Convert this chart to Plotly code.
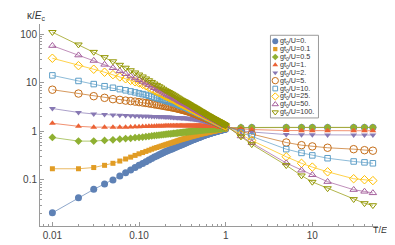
import plotly.graph_objects as go

# ---------------- data ----------------
T = [0.01, 0.02, 0.03, 0.04, 0.05, 0.06, 0.07, 0.08, 0.09, 0.10,
     0.11, 0.12, 0.13, 0.14, 0.15, 0.16, 0.17, 0.18, 0.19, 0.20,
     0.21, 0.22, 0.23, 0.24, 0.25, 0.26, 0.27, 0.28, 0.29, 0.30,
     0.31, 0.32, 0.33, 0.34, 0.35, 0.36, 0.37, 0.38, 0.39, 0.40,
     0.41, 0.42, 0.43, 0.44, 0.45, 0.46, 0.47, 0.48, 0.49, 0.50,
     0.51, 0.52, 0.53, 0.54, 0.55, 0.56, 0.57, 0.58, 0.59, 0.60,
     0.61, 0.62, 0.63, 0.64, 0.65, 0.66, 0.67, 0.68, 0.69, 0.70,
     0.71, 0.72, 0.73, 0.74, 0.75, 0.76, 0.77, 0.78, 0.79, 0.80,
     0.81, 0.82, 0.83, 0.84, 0.85, 0.86, 0.87, 0.88, 0.89, 0.90,
     0.91, 0.92, 0.93, 0.94, 0.95, 0.96, 0.97, 0.98, 0.99, 1.00,
     1.5, 2, 5, 7.5, 10, 15, 30, 40, 50]

k_g0 = [0.021, 0.043, 0.064, 0.083, 0.10, 0.12, 0.14, 0.16, 0.18, 0.20,
        0.219, 0.238, 0.257, 0.276, 0.295, 0.312, 0.329, 0.346, 0.363, 0.38,
        0.394, 0.408, 0.422, 0.436, 0.45, 0.464, 0.478, 0.492, 0.506, 0.52,
        0.533, 0.546, 0.559, 0.572, 0.585, 0.598, 0.611, 0.624, 0.637, 0.65,
        0.661, 0.672, 0.683, 0.694, 0.705, 0.716, 0.727, 0.738, 0.749, 0.76,
        0.77, 0.78, 0.79, 0.80, 0.81, 0.82, 0.83, 0.84, 0.85, 0.86,
        0.868, 0.876, 0.884, 0.892, 0.90, 0.908, 0.916, 0.924, 0.932, 0.94,
        0.947, 0.954, 0.961, 0.968, 0.975, 0.982, 0.989, 0.996, 1.003, 1.01,
        1.016, 1.022, 1.028, 1.034, 1.04, 1.046, 1.052, 1.058, 1.064, 1.07,
        1.075, 1.08, 1.085, 1.09, 1.095, 1.10, 1.105, 1.11, 1.115, 1.12,
        1.18, 1.2, 1.2, 1.2, 1.2, 1.2, 1.2, 1.2, 1.2]

k_g01 = [0.17, 0.17, 0.18, 0.20, 0.22, 0.245, 0.27, 0.295, 0.32, 0.345,
         0.366, 0.387, 0.408, 0.429, 0.45, 0.466, 0.482, 0.498, 0.514, 0.53,
         0.544, 0.558, 0.572, 0.586, 0.60, 0.614, 0.628, 0.642, 0.656, 0.67,
         0.681, 0.692, 0.703, 0.714, 0.725, 0.736, 0.747, 0.758, 0.769, 0.78,
         0.789, 0.798, 0.807, 0.816, 0.825, 0.834, 0.843, 0.852, 0.861, 0.87,
         0.877, 0.884, 0.891, 0.898, 0.905, 0.912, 0.919, 0.926, 0.933, 0.94,
         0.946, 0.952, 0.958, 0.964, 0.97, 0.976, 0.982, 0.988, 0.994, 1.0,
         1.005, 1.01, 1.015, 1.02, 1.025, 1.03, 1.035, 1.04, 1.045, 1.05,
         1.055, 1.06, 1.065, 1.07, 1.075, 1.08, 1.085, 1.09, 1.095, 1.10,
         1.104, 1.108, 1.112, 1.116, 1.12, 1.124, 1.128, 1.132, 1.136, 1.14,
         1.19, 1.2, 1.2, 1.2, 1.2, 1.2, 1.2, 1.2, 1.2]

k_g05 = [0.75, 0.63, 0.63, 0.65, 0.67, 0.69, 0.71, 0.72, 0.74, 0.75,
         0.764, 0.778, 0.792, 0.806, 0.82, 0.83, 0.84, 0.85, 0.86, 0.87,
         0.877, 0.884, 0.891, 0.898, 0.905, 0.912, 0.919, 0.926, 0.933, 0.94,
         0.946, 0.952, 0.958, 0.964, 0.97, 0.976, 0.982, 0.988, 0.994, 1.0,
         1.005, 1.01, 1.015, 1.02, 1.025, 1.03, 1.035, 1.04, 1.045, 1.05,
         1.054, 1.058, 1.062, 1.066, 1.07, 1.074, 1.078, 1.082, 1.086, 1.09,
         1.093, 1.096, 1.099, 1.102, 1.105, 1.108, 1.111, 1.114, 1.117, 1.12,
         1.122, 1.124, 1.126, 1.128, 1.13, 1.132, 1.134, 1.136, 1.138, 1.14,
         1.142, 1.144, 1.146, 1.148, 1.15, 1.152, 1.154, 1.156, 1.158, 1.16,
         1.162, 1.164, 1.166, 1.168, 1.17, 1.172, 1.174, 1.176, 1.178, 1.18,
         1.2, 1.21, 1.21, 1.21, 1.21, 1.21, 1.21, 1.21, 1.21]

k_g1 = [1.47, 1.27, 1.22, 1.21, 1.21, 1.21, 1.22, 1.23, 1.24, 1.25,
        1.256, 1.262, 1.268, 1.274, 1.28, 1.284, 1.288, 1.292, 1.296, 1.30,
        1.301, 1.302, 1.303, 1.304, 1.305, 1.306, 1.307, 1.308, 1.309, 1.31,
        1.31, 1.31, 1.31, 1.31, 1.31, 1.31, 1.31, 1.31, 1.31, 1.31,
        1.309, 1.308, 1.307, 1.306, 1.305, 1.304, 1.303, 1.302, 1.301, 1.30,
        1.299, 1.298, 1.297, 1.296, 1.295, 1.294, 1.293, 1.292, 1.291, 1.29,
        1.288, 1.286, 1.284, 1.282, 1.28, 1.278, 1.276, 1.274, 1.272, 1.27,
        1.268, 1.267, 1.265, 1.264, 1.262, 1.261, 1.259, 1.258, 1.256, 1.255,
        1.254, 1.252, 1.251, 1.249, 1.248, 1.246, 1.245, 1.243, 1.242, 1.24,
        1.238, 1.236, 1.234, 1.232, 1.23, 1.228, 1.226, 1.224, 1.222, 1.22,
        1.13, 1.09, 1.04, 1.03, 1.03, 1.03, 1.03, 1.03, 1.03]

k_g2 = [2.95, 2.45, 2.28, 2.22, 2.18, 2.15, 2.12, 2.10, 2.08, 2.06,
        2.052, 2.044, 2.036, 2.028, 2.02, 2.012, 2.004, 1.996, 1.988, 1.98,
        1.972, 1.964, 1.956, 1.948, 1.94, 1.932, 1.924, 1.916, 1.908, 1.90,
        1.892, 1.884, 1.876, 1.868, 1.86, 1.852, 1.844, 1.836, 1.828, 1.82,
        1.81, 1.80, 1.79, 1.78, 1.77, 1.76, 1.75, 1.74, 1.73, 1.72,
        1.708, 1.696, 1.684, 1.672, 1.66, 1.648, 1.636, 1.624, 1.612, 1.60,
        1.59, 1.58, 1.57, 1.56, 1.55, 1.54, 1.53, 1.52, 1.51, 1.50,
        1.491, 1.482, 1.473, 1.464, 1.455, 1.446, 1.437, 1.428, 1.419, 1.41,
        1.401, 1.392, 1.383, 1.374, 1.365, 1.356, 1.347, 1.338, 1.329, 1.32,
        1.313, 1.306, 1.299, 1.292, 1.285, 1.278, 1.271, 1.264, 1.257, 1.25,
        1.03, 0.97, 0.86, 0.85, 0.85, 0.84, 0.84, 0.84, 0.84]

k_g5 = [7.2, 6.0, 5.3, 4.9, 4.6, 4.45, 4.3, 4.2, 4.1, 4.0,
        3.92, 3.84, 3.76, 3.68, 3.60, 3.54, 3.48, 3.42, 3.36, 3.30,
        3.255, 3.21, 3.165, 3.12, 3.075, 3.03, 2.985, 2.94, 2.895, 2.85,
        2.81, 2.77, 2.73, 2.69, 2.65, 2.61, 2.57, 2.53, 2.49, 2.45,
        2.415, 2.38, 2.345, 2.31, 2.275, 2.24, 2.205, 2.17, 2.135, 2.10,
        2.075, 2.05, 2.025, 2.0, 1.975, 1.95, 1.925, 1.9, 1.875, 1.85,
        1.83, 1.81, 1.79, 1.77, 1.75, 1.73, 1.71, 1.69, 1.67, 1.65,
        1.635, 1.62, 1.605, 1.59, 1.575, 1.56, 1.545, 1.53, 1.515, 1.50,
        1.487, 1.474, 1.461, 1.448, 1.435, 1.422, 1.409, 1.396, 1.383, 1.37,
        1.36, 1.35, 1.34, 1.33, 1.32, 1.31, 1.30, 1.29, 1.28, 1.27,
        1.0, 0.88, 0.59, 0.52, 0.49, 0.46, 0.43, 0.41, 0.40]

k_g10 = [14.2, 10.9, 9.4, 8.5, 7.9, 7.4, 7.0, 6.65, 6.35, 6.05,
         5.84, 5.63, 5.42, 5.21, 5.0, 4.86, 4.72, 4.58, 4.44, 4.30,
         4.21, 4.12, 4.03, 3.94, 3.85, 3.76, 3.67, 3.58, 3.49, 3.40,
         3.335, 3.27, 3.205, 3.14, 3.075, 3.01, 2.945, 2.88, 2.815, 2.75,
         2.705, 2.66, 2.615, 2.57, 2.525, 2.48, 2.435, 2.39, 2.345, 2.30,
         2.268, 2.236, 2.204, 2.172, 2.14, 2.108, 2.076, 2.044, 2.012, 1.98,
         1.956, 1.932, 1.908, 1.884, 1.86, 1.836, 1.812, 1.788, 1.764, 1.74,
         1.721, 1.702, 1.683, 1.664, 1.645, 1.626, 1.607, 1.588, 1.569, 1.55,
         1.535, 1.52, 1.505, 1.49, 1.475, 1.46, 1.445, 1.43, 1.415, 1.40,
         1.388, 1.376, 1.364, 1.352, 1.34, 1.328, 1.316, 1.304, 1.292, 1.28,
         0.94, 0.79, 0.43, 0.36, 0.32, 0.28, 0.24, 0.23, 0.22]

k_g25 = [32, 22.5, 19, 16.5, 14.7, 13.2, 12.1, 11.2, 10.5, 9.9,
         9.25, 8.63, 8.05, 7.48, 6.93, 6.6, 6.28, 5.98, 5.68, 5.38,
         5.19, 5.01, 4.83, 4.66, 4.50, 4.34, 4.19, 4.04, 3.90, 3.76,
         3.67, 3.57, 3.48, 3.40, 3.31, 3.23, 3.15, 3.07, 3.0, 2.92,
         2.86, 2.81, 2.75, 2.70, 2.65, 2.60, 2.55, 2.50, 2.45, 2.40,
         2.36, 2.33, 2.29, 2.25, 2.22, 2.18, 2.15, 2.12, 2.08, 2.05,
         2.02, 2.0, 1.97, 1.94, 1.92, 1.89, 1.86, 1.84, 1.81, 1.79,
         1.77, 1.75, 1.73, 1.71, 1.69, 1.67, 1.65, 1.63, 1.61, 1.59,
         1.573, 1.556, 1.54, 1.523, 1.507, 1.49, 1.475, 1.46, 1.445, 1.43,
         1.416, 1.403, 1.39, 1.376, 1.363, 1.35, 1.337, 1.325, 1.312, 1.30,
         0.86, 0.65, 0.30, 0.22, 0.184, 0.147, 0.106, 0.101, 0.097]

k_g50 = [58, 37, 28.6, 23.8, 20.3, 17.5, 15.3, 13.7, 12.5, 11.5,
         10.6, 9.8, 9.1, 8.45, 7.86, 7.43, 7.04, 6.68, 6.32, 5.99,
         5.77, 5.55, 5.35, 5.15, 4.96, 4.77, 4.59, 4.42, 4.26, 4.10,
         3.99, 3.88, 3.78, 3.68, 3.58, 3.49, 3.39, 3.30, 3.22, 3.13,
         3.06, 3.0, 2.93, 2.87, 2.81, 2.75, 2.69, 2.64, 2.58, 2.53,
         2.49, 2.44, 2.40, 2.36, 2.32, 2.28, 2.24, 2.20, 2.17, 2.13,
         2.10, 2.07, 2.04, 2.01, 1.99, 1.96, 1.93, 1.90, 1.88, 1.85,
         1.83, 1.80, 1.78, 1.76, 1.73, 1.71, 1.69, 1.67, 1.65, 1.63,
         1.61, 1.59, 1.58, 1.56, 1.54, 1.52, 1.51, 1.49, 1.48, 1.46,
         1.445, 1.43, 1.414, 1.399, 1.384, 1.369, 1.354, 1.339, 1.325, 1.31,
         0.80, 0.58, 0.223, 0.158, 0.127, 0.092, 0.063, 0.058, 0.054]

k_g100 = [110, 61, 43, 33.5, 27.5, 23.3, 20.3, 18.0, 16.2, 14.7,
          13.4, 12.2, 11.2, 10.35, 9.6, 9.0, 8.45, 7.95, 7.47, 7.0,
          6.70, 6.42, 6.15, 5.89, 5.64, 5.40, 5.17, 4.96, 4.75, 4.55,
          4.42, 4.29, 4.17, 4.05, 3.94, 3.82, 3.71, 3.61, 3.50, 3.40,
          3.32, 3.24, 3.17, 3.09, 3.02, 2.95, 2.88, 2.81, 2.75, 2.68,
          2.63, 2.58, 2.53, 2.48, 2.43, 2.38, 2.34, 2.29, 2.25, 2.20,
          2.17, 2.13, 2.10, 2.07, 2.04, 2.0, 1.97, 1.94, 1.91, 1.88,
          1.86, 1.83, 1.81, 1.78, 1.76, 1.74, 1.72, 1.69, 1.67, 1.65,
          1.63, 1.61, 1.59, 1.58, 1.56, 1.54, 1.52, 1.50, 1.49, 1.47,
          1.455, 1.44, 1.424, 1.409, 1.394, 1.379, 1.364, 1.349, 1.335, 1.32,
          0.78, 0.54, 0.20, 0.123, 0.091, 0.067, 0.040, 0.033, 0.030]

series_values = [k_g0, k_g01, k_g05, k_g1, k_g2, k_g5, k_g10, k_g25, k_g50, k_g100]
series_labels = ["gt<sub>0</sub>/U=0.", "gt<sub>0</sub>/U=0.1", "gt<sub>0</sub>/U=0.5",
                 "gt<sub>0</sub>/U=1.", "gt<sub>0</sub>/U=2.", "gt<sub>0</sub>/U=5.",
                 "gt<sub>0</sub>/U=10.", "gt<sub>0</sub>/U=25.", "gt<sub>0</sub>/U=50.",
                 "gt<sub>0</sub>/U=100."]
x_tick_vals = [0.01, 0.1, 1, 10]
x_tick_text = ["0.01", "0.10", "1", "10"]
y_tick_vals = [0.1, 1, 10, 100]
y_tick_text = ["0.1", "1", "10", "100"]

# ---------------- styles ----------------
colors = ["#5E81B5", "#E19C24", "#8FB032", "#EB6235", "#8778B3",
          "#C56E1A", "#5D9EC7", "#FFBF00", "#A5609D", "#929600"]
symbols = ["circle", "square", "diamond", "triangle-up", "triangle-down",
           "circle-open", "square-open", "diamond-open", "triangle-up-open", "triangle-down-open"]
sizes = [7, 5, 6, 6, 6, 7.5, 5.5, 6.5, 6.5, 6.5]


def rgba(hexc, a):
    h = hexc.lstrip("#")
    return "rgba(%d,%d,%d,%.2f)" % (int(h[0:2], 16), int(h[2:4], 16), int(h[4:6], 16), a)


# plot-area geometry in pixels
W, H = 395, 245
L, R, TOP, B = 18, 370, 16, 231

fig = go.Figure()
for vals, col, sym, sz in zip(series_values, colors, symbols, sizes):
    is_open = sym.endswith("open")
    fig.add_trace(go.Scatter(
        x=T, y=vals, mode="lines+markers",
        line=dict(color=rgba(col, 0.7), width=1),
        marker=dict(symbol=sym, size=sz, color=col,
                    line=dict(color=col, width=1 if is_open else 0)),
        showlegend=False, hoverinfo="skip"))

# custom compact legend (overlay pixel axes)
leg_x0, leg_x1, leg_y0, leg_y1 = 258, 308, 28, 116
row0, rowstep = 34.3, 8.4
for i, (col, sym, sz, lab) in enumerate(zip(colors, symbols, sizes, series_labels)):
    is_open = sym.endswith("open")
    fig.add_trace(go.Scatter(
        x=[263], y=[row0 + rowstep * i], xaxis="x2", yaxis="y2", mode="markers",
        marker=dict(symbol=sym, size=sz * 0.85, color=col,
                    line=dict(color=col, width=1 if is_open else 0)),
        showlegend=False, hoverinfo="skip"))
    fig.add_annotation(x=267, y=row0 + rowstep * i, xref="x2", yref="y2",
                       text=lab, showarrow=False, xanchor="left", yanchor="middle",
                       borderpad=0,
                       font=dict(size=7.2, color="#333", family="Liberation Sans, Arial"))

fig.add_shape(type="rect", xref="x2", yref="y2", x0=leg_x0, x1=leg_x1, y0=leg_y0, y1=leg_y1,
              line=dict(color="#9a9a9a", width=1), fillcolor="white", layer="below")

minor_x = [m * 10.0 ** e for e in range(-3, 2) for m in range(2, 10)]
minor_y = [m * 10.0 ** e for e in range(-2, 3) for m in range(2, 10)]

axis_common = dict(showgrid=False, zeroline=False, showline=True, linecolor="#9a9a9a",
                   linewidth=1, ticks="inside", ticklen=4, tickcolor="#9a9a9a", tickwidth=1,
                   tickfont=dict(size=10, color="#444", family="Liberation Sans, Arial"),
                   tickmode="array")

fig.update_layout(
    width=W, height=H,
    margin=dict(l=L, r=W - R, t=TOP, b=H - B, pad=0),
    paper_bgcolor="white", plot_bgcolor="white",
    xaxis=dict(type="log", range=[-2.143, 1.758], tickvals=x_tick_vals, ticktext=x_tick_text,
               minor=dict(ticks="inside", ticklen=2, tickcolor="#9a9a9a", tickvals=minor_x),
               **axis_common),
    yaxis=dict(type="log", range=[-1.948, 2.21], tickvals=y_tick_vals, ticktext=y_tick_text,
               minor=dict(ticks="inside", ticklen=2, tickcolor="#9a9a9a", tickvals=minor_y),
               **axis_common),
    xaxis2=dict(overlaying="x", anchor="y2", range=[L, R], visible=False, fixedrange=True),
    yaxis2=dict(overlaying="y", anchor="x2", range=[B, TOP], visible=False, fixedrange=True),
    font=dict(family="Liberation Sans, Arial"),
)

fig.add_annotation(x=(3 - L) / (R - L), y=(B - 8) / (B - TOP), xref="paper", yref="paper",
                   text="κ/<i>E</i><sub>c</sub>", showarrow=False, xanchor="left", yanchor="middle",
                   borderpad=0, font=dict(size=10, color="#333"))
fig.add_annotation(x=(384 - L) / (R - L), y=(B - 236) / (B - TOP), xref="paper", yref="paper",
                   text="T/<i>E</i><sub>c</sub>", showarrow=False, xanchor="right", yanchor="middle",
                   borderpad=0, font=dict(size=9, color="#333", family="Liberation Sans, Arial"))

fig.write_html("out.html")
